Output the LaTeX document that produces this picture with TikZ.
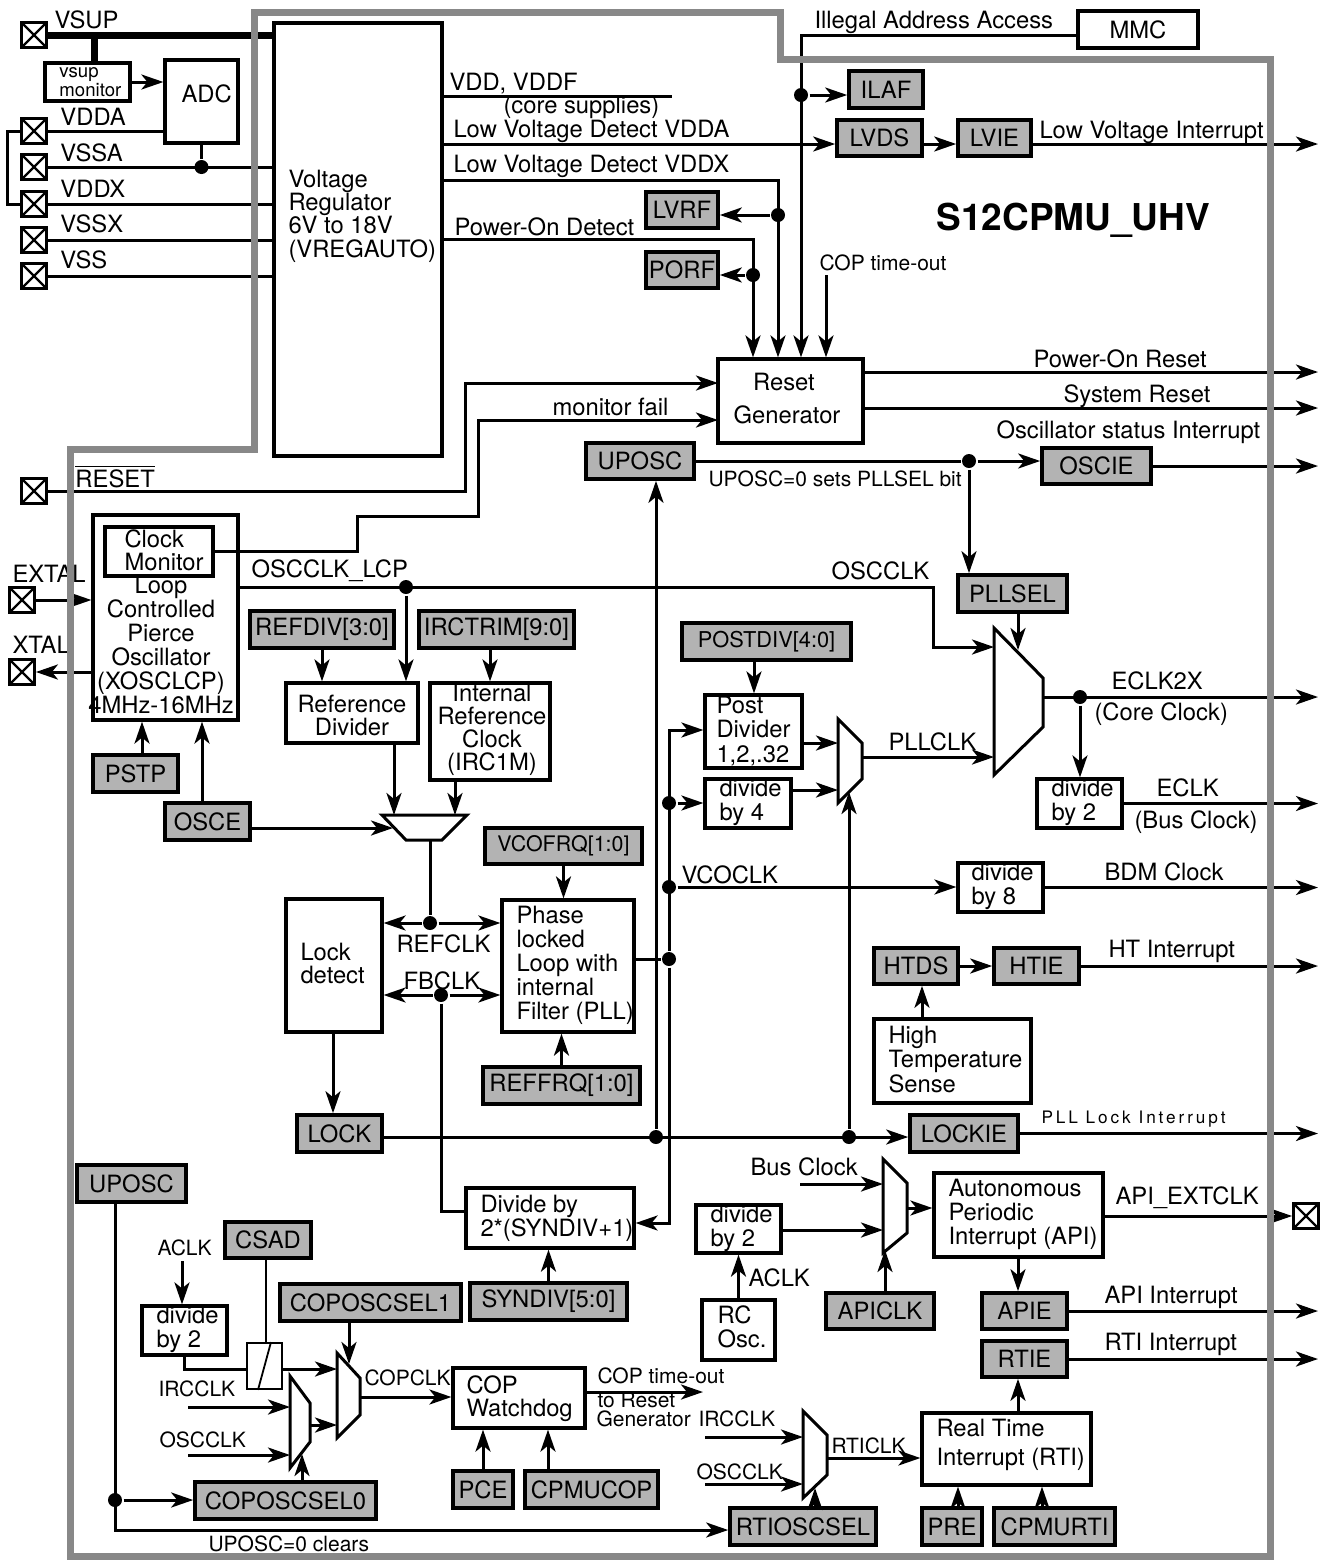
\documentclass[tikz,border=0pt]{standalone}
\usepackage{fontspec}
\setmainfont{TeX Gyre Heros}
\newfontfamily\spacedfont[LetterSpace=17]{TeX Gyre Heros}
\usetikzlibrary{arrows.meta,calc}
\definecolor{regfill}{RGB}{179,179,179}
\definecolor{bordergray}{RGB}{136,136,136}
\newcommand\wbx[6]{\node[wbox,minimum width={(#4-#2)*0.5pt},minimum height={(#5-#3)*0.5pt}] (#1) at ({(#2+#4)/2},{(#3+#5)/2}) {#6};}
\newcommand\rbx[6]{\node[rbox,minimum width={(#4-#2)*0.5pt},minimum height={(#5-#3)*0.5pt}] (#1) at ({(#2+#4)/2},{(#3+#5)/2}) {#6};}
\newcommand\lb[5][]{\node[lbl,#1] (#2) at (#3,#4) {#5};}
\begin{document}
\begin{tikzpicture}[x=0.5pt,y=-0.5pt,line width=1.5pt,
  >={Stealth[length=11pt,width=7.5pt,inset=3pt]},
  font=\fontsize{11.9}{12}\selectfont,
  wbox/.style={draw,fill=white,line width=1.6pt,inner sep=0pt,rectangle},
  rbox/.style={draw,fill=regfill,line width=1.8pt,inner sep=0pt,rectangle},
  swbox/.style={draw,fill=white,line width=0.9pt,inner sep=0pt,rectangle},
  pinbox/.style={draw,fill=white,line width=1.4pt,minimum size=12.5pt,inner sep=0pt,
    path picture={\draw[line width=1.2pt] (path picture bounding box.north west) -- (path picture bounding box.south east)
      (path picture bounding box.south west) -- (path picture bounding box.north east);}},
  dot/.style={circle,fill,inner sep=0pt,minimum size=7pt},
  lbl/.style={anchor=base west,inner sep=0pt,align=left},
  clbl/.style={anchor=base,inner sep=0pt,align=center},
  sm/.style={font=\fontsize{10.5}{12}\selectfont},
  muxs/.style={draw,fill=white,line width=1.5pt},
  border/.style={draw=bordergray,line width=3.5pt},
  thinl/.style={line width=0.9pt}]
\useasboundingbox (0,0) rectangle (1325,1560);

% ---------- pins ----------
\node[pinbox] (pVSUP) at (34,35) {};
\node[pinbox] (pVDDA) at (34,131) {};
\node[pinbox] (pVSSA) at (34,167) {};
\node[pinbox] (pVDDX) at (34,204) {};
\node[pinbox] (pVSSX) at (34,240) {};
\node[pinbox] (pVSS) at (34,276) {};
\node[pinbox] (pRESET) at (34,491) {};
\node[pinbox] (pEXTAL) at (22,600) {};
\node[pinbox] (pXTAL) at (22,672) {};
\node[pinbox] (pAPI) at (1306,1216) {};

% ---------- boxes ----------
\wbx{vsupmon}{45}{63}{130}{101}{}
\wbx{adc}{165}{60}{238}{143}{}
\wbx{vreg}{274}{23}{442}{456}{}
\wbx{mmc}{1078}{11}{1198}{48}{MMC}
\rbx{ilaf}{849}{71}{923}{108}{ILAF}
\rbx{lvds}{837}{120}{922}{156}{LVDS}
\rbx{lvie}{958}{120}{1031}{156}{LVIE}
\rbx{lvrf}{646}{192}{718}{228}{LVRF}
\rbx{porf}{646}{252}{718}{288}{PORF}
\wbx{rst}{718}{359}{863}{443}{}
\rbx{upT}{586}{443}{694}{479}{UPOSC}
\rbx{oscie}{1042}{448}{1151}{484}{OSCIE}
\wbx{osc}{93}{515}{238}{720}{}
\wbx{cmon}{105}{527}{213}{576}{}
\rbx{pllsel}{958}{575}{1067}{612}{PLLSEL}
\rbx{refdiv}{250}{611}{394}{648}{REFDIV[3:0]}
\rbx{irctrim}{419}{611}{574}{648}{IRCTRIM[9:0]}
\rbx{postdiv}{682}{623}{851}{660}{\fontsize{10.9}{11}\selectfont POSTDIV[4:0]}
\wbx{refdv}{286}{683}{418}{743}{}
\wbx{irc}{430}{683}{550}{780}{}
\wbx{pdiv}{705}{695}{802}{768}{}
\rbx{pstp}{93}{755}{178}{792}{PSTP}
\wbx{d4}{705}{779}{791}{828}{}
\wbx{d2e}{1037}{779}{1122}{828}{}
\rbx{osce}{165}{803}{250}{840}{OSCE}
\rbx{vcofrq}{485}{828}{642}{864}{\fontsize{10.7}{11}\selectfont VCOFRQ[1:0]}
\wbx{d8}{958}{863}{1043}{912}{}
\wbx{ldet}{286}{899}{382}{1032}{}
\wbx{pll}{502}{900}{634}{1032}{}
\rbx{htds}{874}{948}{958}{984}{HTDS}
\rbx{htie}{994}{948}{1079}{984}{HTIE}
\wbx{hts}{874}{1019}{1031}{1103}{}
\rbx{reffrq}{483}{1067}{640}{1104}{REFFRQ[1:0]}
\rbx{lock}{297}{1115}{382}{1152}{LOCK}
\rbx{lockie}{910}{1115}{1018}{1152}{LOCKIE}
\rbx{upB}{77}{1165}{186}{1202}{UPOSC}
\wbx{api}{934}{1173}{1103}{1257}{}
\wbx{divs}{466}{1188}{634}{1248}{}
\wbx{d2a}{696}{1205}{781}{1253}{}
\rbx{csad}{225}{1222}{311}{1258}{CSAD}
\rbx{syndiv}{470}{1283}{627}{1320}{SYNDIV[5:0]}
\rbx{coposc1}{280}{1284}{461}{1321}{COPOSCSEL1}
\rbx{apiclk}{826}{1293}{934}{1329}{APICLK}
\rbx{apie}{982}{1293}{1067}{1329}{APIE}
\wbx{rc}{702}{1300}{775}{1360}{}
\wbx{d2c}{142}{1306}{227}{1355}{}
\rbx{rtie}{982}{1341}{1067}{1377}{RTIE}
\wbx{cop}{453}{1368}{585}{1428}{}
\wbx{rti}{922}{1413}{1091}{1485}{}
\rbx{pce}{453}{1471}{513}{1508}{PCE}
\rbx{cpmucop}{525}{1471}{658}{1508}{CPMUCOP}
\rbx{coposc0}{195}{1482}{376}{1519}{COPOSCSEL0}
\rbx{rtiosc}{730}{1508}{876}{1545}{RTIOSCSEL}
\rbx{pre}{922}{1508}{982}{1545}{PRE}
\rbx{cpmurti}{994}{1508}{1115}{1545}{CPMURTI}

\coordinate (outX) at (1318,0);

% ---------- supply side ----------
\coordinate (jv) at (94,35);
\draw[line width=3.5pt] (pVSUP.east) -- (pVSUP.east -| vreg.west);
\draw[line width=3.5pt] (jv) -- (jv |- vsupmon.north);
\draw[->] (vsupmon.east) -- (vsupmon.east -| adc.west);
\draw (pVDDA.east) -- (pVDDA.east -| adc.west);
\draw (pVDDA.west) -- ++(-13,0) |- (pVDDX.west);
\node[dot] (dADC) at (adc.south |- pVSSA) {};
\draw (pVSSA.east) -- (pVSSA.east -| vreg.west);
\draw (dADC) -- (adc.south);
\draw (pVDDX.east) -- (pVDDX.east -| vreg.west);
\draw (pVSSX.east) -- (pVSSX.east -| vreg.west);
\draw (pVSS.east) -- (pVSS.east -| vreg.west);

% ---------- regulator outputs ----------
\coordinate (vddE) at (672,96);
\draw (vddE -| vreg.east) -- (vddE);
\coordinate (lvdY) at (1318,144);
\draw[->] (lvdY -| vreg.east) -- (lvdY -| lvds.west);
\draw[->] (lvdY -| lvds.east) -- (lvdY -| lvie.west);
\draw[->] (lvdY -| lvie.east) -- (lvdY);
\coordinate (lvx) at (778,180);
\node[dot] (dLVRF) at (778,215) {};
\draw[->] (lvx -| vreg.east) -- (lvx) -- (lvx |- rst.north);
\draw[->] (dLVRF) -- (dLVRF -| lvrf.east);
\coordinate (pod) at (753,239);
\node[dot] (dPORF) at (753,275) {};
\draw[->] (pod -| vreg.east) -- (pod) -- (pod |- rst.north);
\draw[->] (dPORF) -- (dPORF -| porf.east);
\coordinate (ila) at (801,35);
\node[dot] (dILAF) at (801,95) {};
\draw[->] (ila -| mmc.west) -- (ila) -- (ila |- rst.north);
\draw[->] (dILAF) -- (dILAF -| ilaf.west);
\coordinate (copt) at (826,275);
\draw[->] (copt) -- (copt |- rst.north);

% ---------- reset generator ----------
\coordinate (porY) at (1318,372);
\draw[->] (porY -| rst.east) -- (porY);
\coordinate (srY) at (1318,408);
\draw[->] (srY -| rst.east) -- (srY);
\coordinate (rsIn) at (718,383);
\coordinate (rsB) at (465,491);
\draw[->] (pRESET.east) -- (pRESET.east -| rsB) -- (rsB |- rsIn) -- (rsIn);
\coordinate (mfIn) at (718,420);
\coordinate (mfA) at (357,516);
\coordinate (mfB) at (478,516);
\draw[->] (cmon.east) -- (cmon.east -| mfA) -- (mfA) -- (mfB) -- (mfB |- mfIn) -- (mfIn);

% ---------- UPOSC / OSCIE ----------
\node[dot] (dUp) at (969,461) {};
\draw (upT.east) -- (dUp);
\draw[->] (dUp) -- (dUp -| oscie.west);
\draw[->] (oscie.east) -- (oscie.east -| outX);
\draw[->] (dUp) -- (dUp |- pllsel.north);

% ---------- oscillator ----------
\draw[->] (pEXTAL.east) -- (pEXTAL.east -| osc.west);
\draw[->] (pXTAL.east -| osc.west) -- (pXTAL.east);
\coordinate (psA) at (142,755);
\draw[->] (psA) -- (psA |- osc.south);
\coordinate (osA) at (202,803);
\draw[->] (osA) -- (osA |- osc.south);

% ---------- big mux ----------
\coordinate (bm1) at (994,628); \coordinate (bm2) at (1043,678);
\coordinate (bm3) at (1043,727); \coordinate (bm4) at (994,775);
\draw[muxs] (bm1) -- (bm2) -- (bm3) -- (bm4) -- cycle;
\coordinate (oscY) at (933,587);
\coordinate (bmA) at (994,647);
\coordinate (bmB) at (994,757);
\node[dot] (dOL) at (406,587) {};
\draw[->] (oscY -| osc.east) -- (oscY) |- (bmA);
\draw[->] (dOL) -- (dOL |- refdv.north);
\coordinate (bmS) at (1018,650);
\draw[->] (bmS |- pllsel.south) -- (bmS);
\coordinate (bmO) at (1043,697);
\node[dot] (dE) at (1080,697) {};
\draw[->] (bmO) -- (bmO -| outX);
\draw[->] (dE) -- (dE |- d2e.north);
\draw[->] (d2e.east) -- (d2e.east -| outX);

% ---------- reference clock ----------
\draw[->] (refdiv.south) -- (refdiv.south |- refdv.north);
\coordinate (itA) at (490,648);
\draw[->] (itA) -- (itA |- irc.north);
\coordinate (rm1) at (382,815); \coordinate (rm2) at (467,815);
\coordinate (rm3) at (442,840); \coordinate (rm4) at (406,840);
\draw[muxs] (rm1) -- (rm2) -- (rm3) -- (rm4) -- cycle;
\coordinate (rmA) at (394,815);
\coordinate (rmB) at (455,815);
\draw[->] (rmA |- refdv.south) -- (rmA);
\draw[->] (rmB |- irc.south) -- (rmB);
\coordinate (rmC) at (393,828);
\draw[->] (rmC -| osce.east) -- (rmC);
\coordinate (rmO) at (430,840);
\node[dot] (dRef) at (430,923) {};
\draw (rmO) -- (dRef);
\draw[->] (dRef) -- (dRef -| ldet.east);
\draw[->] (dRef) -- (dRef -| pll.west);
\node[dot] (dFB) at (441,995) {};
\draw[->] (dFB) -- (dFB -| ldet.east);
\draw[->] (dFB) -- (dFB -| pll.west);
\coordinate (fbL) at (466,1211);
\draw (dFB) |- (fbL);

% ---------- lock ----------
\coordinate (ldA) at (333,1032);
\draw[->] (ldA) -- (ldA |- lock.north);
\coordinate (lkY) at (0,1137);
\node[dot] (dUpL) at (656,1137) {};
\node[dot] (dMxL) at (849,1137) {};
\draw[->] (lkY -| lock.east) -- (lkY -| lockie.west);
\draw[->] (dUpL) -- (dUpL |- upT.south);
\coordinate (m2s) at (849,792);
\draw[->] (dMxL) -- (m2s);
\draw[->] (lockie.east) -- (lockie.east -| outX);

% ---------- PLL ----------
\draw[->] (vcofrq.south) -- (vcofrq.south |- pll.north);
\draw[->] (reffrq.north) -- (reffrq.north |- pll.south);
\node[dot] (dPll) at (669,959) {};
\draw (dPll -| pll.east) -- (dPll);
\coordinate (vTop) at (669,730);
\coordinate (vBot) at (669,1223);
\draw[->] (dPll) -- (vTop) -- (vTop -| pdiv.west);
\draw[->] (dPll) -- (vBot) -- (vBot -| divs.east);
\node[dot] (dD4) at (669,803) {};
\node[dot] (dVco) at (669,887) {};
\draw[->] (dD4) -- (dD4 -| d4.west);
\draw[->] (dVco) -- (dVco -| d8.west);
\draw[->] (d8.east) -- (d8.east -| outX);
\coordinate (pdA) at (754,660);
\draw[->] (pdA) -- (pdA |- pdiv.north);
\coordinate (m21) at (838,719); \coordinate (m22) at (862,743);
\coordinate (m23) at (862,779); \coordinate (m24) at (838,803);
\draw[muxs] (m21) -- (m22) -- (m23) -- (m24) -- cycle;
\coordinate (m2a) at (838,743);
\coordinate (m2b) at (838,790);
\draw[->] (m2a -| pdiv.east) -- (m2a);
\draw[->] (m2b -| d4.east) -- (m2b);
\coordinate (m2o) at (862,757);
\draw[->] (m2o) -- (m2o -| bmB);

% ---------- HT ----------
\draw[->] (htds.east) -- (htie.west);
\draw[->] (htie.east) -- (htie.east -| outX);
\coordinate (htA) at (922,1019);
\draw[->] (htA) -- (htA |- htds.south);

% ---------- synth divider ----------
\draw[->] (syndiv.north) -- (syndiv.north |- divs.south);

% ---------- bottom left ----------
\coordinate (ub) at (115,1530);
\node[dot] (dUb) at (115,1500) {};
\draw[->] (ub |- upB.south) -- (ub) -- (ub -| rtiosc.west);
\draw[->] (dUb) -- (dUb -| coposc0.west);
\coordinate (acT) at (182,1261);
\draw[->] (acT) -- (acT |- d2c.north);
\coordinate (m3a) at (337,1369);
\draw[->] (d2c.south) |- (m3a);
\node[swbox,minimum width=17.5pt,minimum height=23pt] (sw) at (264.5,1366) {};
\draw[thinl] ($(sw.south)+(-6.5,0)$) -- ($(sw.north)+(6.5,0)$);
\coordinate (csA) at (266,1258);
\draw[thinl] (csA) -- (csA |- sw.north);
\coordinate (m31) at (337,1353); \coordinate (m32) at (360,1378);
\coordinate (m33) at (360,1415); \coordinate (m34) at (337,1438);
\draw[muxs] (m31) -- (m32) -- (m33) -- (m34) -- cycle;
\coordinate (m41) at (290,1376); \coordinate (m42) at (310,1403);
\coordinate (m43) at (310,1442); \coordinate (m44) at (290,1468);
\draw[muxs] (m41) -- (m42) -- (m43) -- (m44) -- cycle;
\coordinate (m3s) at (349,1364);
\draw[->] (m3s |- coposc1.south) -- (m3s);
\coordinate (m4i1) at (290,1407); \coordinate (ircS) at (188,1407);
\draw[->] (ircS) -- (m4i1);
\coordinate (m4i2) at (290,1455); \coordinate (oscS) at (188,1455);
\draw[->] (oscS) -- (m4i2);
\coordinate (m4o) at (310,1425); \coordinate (m3b) at (337,1425);
\draw[->] (m4o) -- (m3b);
\coordinate (m4s) at (302,1454);
\draw[->] (m4s |- coposc0.north) -- (m4s);
\coordinate (m3o) at (360,1397);
\draw[->] (m3o) -- (m3o -| cop.west);
\coordinate (ctoE) at (703,1392);
\draw[->] (ctoE -| cop.east) -- (ctoE);
\draw[->] (pce.north) -- (pce.north |- cop.south);
\coordinate (cpA) at (548,1471);
\draw[->] (cpA) -- (cpA |- cop.south);

% ---------- RTI ----------
\coordinate (r1) at (803,1411); \coordinate (r2) at (827,1435);
\coordinate (r3) at (827,1475); \coordinate (r4) at (803,1498);
\draw[muxs] (r1) -- (r2) -- (r3) -- (r4) -- cycle;
\coordinate (riA) at (803,1437); \coordinate (riS) at (705,1437);
\draw[->] (riS) -- (riA);
\coordinate (roA) at (803,1484); \coordinate (roS) at (705,1484);
\draw[->] (roS) -- (roA);
\coordinate (rsel) at (815,1488);
\draw[->] (rsel |- rtiosc.north) -- (rsel);
\coordinate (rmo) at (827,1458);
\draw[->] (rmo) -- (rmo -| rti.west);
\coordinate (prA) at (958,1508);
\draw[->] (prA) -- (prA |- rti.south);
\coordinate (cmA) at (1042,1508);
\draw[->] (cmA) -- (cmA |- rti.south);
\coordinate (rtA) at (1018,1413);
\draw[->] (rtA) -- (rtA |- rtie.south);
\draw[->] (rtie.east) -- (rtie.east -| outX);
\coordinate (apA) at (1018,1257);
\draw[->] (apA) -- (apA |- apie.north);
\draw[->] (apie.east) -- (apie.east -| outX);

% ---------- API ----------
\coordinate (a1) at (883,1159); \coordinate (a2) at (907,1183);
\coordinate (a3) at (907,1233); \coordinate (a4) at (883,1253);
\draw[muxs] (a1) -- (a2) -- (a3) -- (a4) -- cycle;
\coordinate (abA) at (883,1184); \coordinate (abS) at (800,1184);
\draw[->] (abS) -- (abA);
\coordinate (adA) at (883,1230);
\draw[->] (adA -| d2a.east) -- (adA);
\coordinate (amo) at (907,1208);
\draw[->] (amo) -- (amo -| api.west);
\coordinate (amS) at (885,1250);
\draw[->] (amS |- apiclk.north) -- (amS);
\draw[->] (api.east |- pAPI) -- (pAPI.west);
\draw[->] (rc.north) -- (rc.north |- d2a.south);

% ---------- labels (multi-line: y = baseline of last line) ----------
\lb{tVSUP}{53}{28}{VSUP}
\lb[font=\fontsize{9.3}{9.5}\selectfont]{tvsup}{58}{96}{vsup\\monitor}
\lb{tADC}{180}{102}{ADC}
\lb{tVDDA}{59}{125}{VDDA}
\lb{tVSSA}{59}{161}{VSSA}
\lb{tVDDX}{59}{197}{VDDX}
\lb{tVSSX}{59}{232}{VSSX}
\lb{tVSS}{59}{268}{VSS}
\lb[font=\fontsize{11.9}{11.65}\selectfont]{tVreg}{287}{257}{Voltage\\Regulator\\6V to 18V\\(VREGAUTO)}
\lb{tVDD}{448}{90}{VDD, VDDF}
\lb{tcore}{502}{113}{(core supplies)}
\lb{tLVDA}{452}{137}{Low Voltage Detect VDDA}
\lb{tLVDX}{452}{172}{Low Voltage Detect VDDX}
\lb{tPOD}{453}{235}{Power-On Detect}
\lb{tIAA}{813}{28}{Illegal Address Access}
\lb[sm]{tCOPt}{818}{270}{COP time-out}
\lb{tLVI}{1038}{138}{Low Voltage Interrupt}
\lb[font=\fontsize{18.5}{20}\selectfont\bfseries]{tTitle}{935}{230}{S12CPMU\_UHV}
\node[clbl] (tReset) at (784,390) {Reset};
\node[clbl] (tGen) at (787,423) {Generator};
\lb{tPOR}{1032}{367}{Power-On Reset}
\lb{tSR}{1062}{402}{System Reset}
\lb{tRESET}{74}{487}{$\overline{\hbox{RESET}}$}
\lb{tmf}{551}{415}{monitor fail}
\lb{tOSI}{995}{438}{Oscillator status Interrupt}
\lb[sm]{tUPs}{707}{486}{UPOSC=0 sets PLLSEL bit}
\lb[font=\fontsize{11.9}{11.5}\selectfont]{tCM}{123}{570}{Clock\\Monitor}
\node[clbl,font=\fontsize{11.9}{12}\selectfont] (tLCP) at (161,713) {Loop\\Controlled\\Pierce\\Oscillator\\(XOSCLCP)\\4MHz-16MHz};
\lb{tEXTAL}{11}{582}{EXTAL}
\lb{tXTAL}{11}{653}{XTAL}
\lb{tOLCP}{250}{577}{OSCCLK\_LCP}
\lb{tOSCCLK}{830}{579}{OSCCLK}
\node[clbl,font=\fontsize{11.9}{11.5}\selectfont] (tRefDiv) at (352,735) {Reference\\Divider};
\node[clbl,font=\fontsize{11.9}{11.35}\selectfont] (tIRC) at (492,770) {Internal\\Reference\\Clock\\(IRC1M)};
\lb[font=\fontsize{11.9}{12.2}\selectfont]{tPost}{715}{762}{Post\\Divider\\1,2,.32}
\lb{tPLLCLK}{887}{750}{PLLCLK}
\lb{tECLK2X}{1110}{689}{ECLK2X}
\lb{tCore}{1093}{720}{(Core Clock)}
\lb{td4}{718}{820}{divide\\by 4}
\lb{td2e}{1050}{820}{divide\\by 2}
\lb{tECLK}{1155}{796}{ECLK}
\lb{tBus}{1133}{828}{(Bus Clock)}
\lb{tVCO}{680}{883}{VCOCLK}
\lb{td8}{970}{904}{divide\\by 8}
\lb{tBDM}{1103}{880}{BDM Clock}
\lb[font=\fontsize{11.9}{11.5}\selectfont]{tLock}{299}{983}{Lock\\detect}
\lb{tREFCLK}{395}{952}{REFCLK}
\lb{tFBCLK}{402}{989}{FBCLK}
\lb[font=\fontsize{11.9}{12}\selectfont]{tPLL}{515}{1019}{Phase\\locked\\Loop with\\internal\\Filter (PLL)}
\lb{tHT}{1107}{957}{HT Interrupt}
\lb[font=\fontsize{11.9}{12.2}\selectfont]{tHTS}{887}{1092}{High\\Temperature\\Sense}
\lb[font=\fontsize{8.6}{10}\spacedfont]{tPLLLI}{1040}{1123}{PLL Lock Interrupt}
\lb{tDivs}{479}{1236}{Divide by\\2*(SYNDIV+1)}
\lb{tBusC}{749}{1175}{Bus Clock}
\lb{td2a}{709}{1246}{divide\\by 2}
\lb{tACLK2}{747}{1286}{ACLK}
\lb{tRC}{716}{1347}{RC\\Osc.}
\lb[sm]{tACLK}{156}{1255}{ACLK}
\lb{td2c}{155}{1347}{divide\\by 2}
\lb[sm]{tIRCCLK}{157}{1396}{IRCCLK}
\lb[sm]{tOSCCLK2}{158}{1447}{OSCCLK}
\lb[sm]{tCOPCLK}{363}{1385}{COPCLK}
\lb[font=\fontsize{11.9}{11.5}\selectfont]{tCOP}{465}{1416}{COP\\Watchdog}
\lb[sm]{tCOPto}{596}{1383}{COP time-out}
\lb[sm]{tToR}{596}{1407}{to Reset}
\lb[sm]{tGenr}{595}{1426}{Generator}
\lb[sm]{tIRC3}{697}{1426}{IRCCLK}
\lb[sm]{tOSC3}{695}{1479}{OSCCLK}
\lb[sm]{tRTICLK}{830}{1453}{RTICLK}
\lb[font=\fontsize{11.9}{14.5}\selectfont]{tRTI}{935}{1465}{Real Time\\Interrupt (RTI)}
\lb[font=\fontsize{11.9}{11.8}\selectfont]{tAPI}{947}{1244}{Autonomous\\Periodic\\Interrupt (API)}
\lb{tAPIEXT}{1114}{1204}{API\_EXTCLK}
\lb{tAPIint}{1103}{1303}{API Interrupt}
\lb{tRTIint}{1103}{1350}{RTI Interrupt}
\lb[sm]{tUPc}{207}{1551}{UPOSC=0 clears}

% ---------- module border ----------
\draw[border] (70,1556) -- (70,449) -- (254,449) -- (254,12) -- (780,12) -- (780,59) -- (1270,59) -- (1270,1556) -- cycle;
\end{tikzpicture}
\end{document}
